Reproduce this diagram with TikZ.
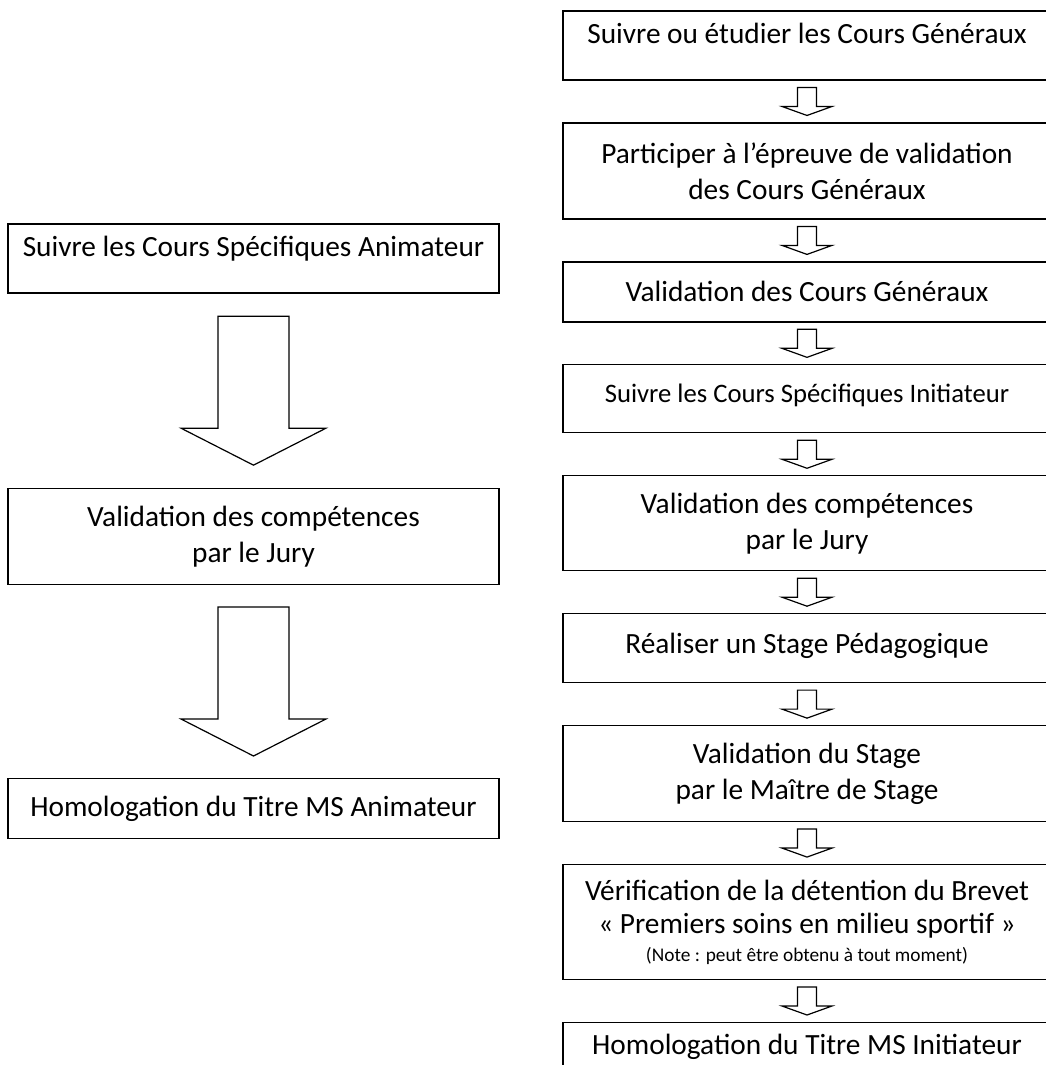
\documentclass[tikz,border=0pt]{standalone}
\usepackage{fontspec}
\setmainfont{Carlito}
\usepackage{tikz}
\usetikzlibrary{
    positioning,
    calc
}

% hollow block arrow between two stacked boxes
% #1 upper node, #2 lower node, #3 half length, #4 shaft half width,
% #5 head half width, #6 head length
\newcommand{\flowarrow}[6]{%
  \coordinate (m) at ($(#1.south)!0.5!(#2.north)$);
  \draw[blockarrow] ($(m)+(-#4,-#3)$) -- ($(m)+(-#4,{#3-#6})$)
    -- ($(m)+(-#5,{#3-#6})$) -- ($(m)+(0,#3)$)
    -- ($(m)+(#5,{#3-#6})$) -- ($(m)+(#4,{#3-#6})$)
    -- ($(m)+(#4,-#3)$) -- cycle;}

\begin{document}
\begin{tikzpicture}[
  x = 0.75pt, y = -0.75pt,
  node distance = 31.2pt,
  box/.style       = {rectangle, draw, line width=1pt, align=center,
                      inner sep=0pt, minimum height=51.75pt},
  rbox/.style      = {box, minimum width=366pt},
  lbox/.style      = {box, minimum width=368.25pt},
  topline/.style   = {text height=14.5pt, text depth=18pt},
  blockarrow/.style = {draw, line width=0.9pt, line join=miter},
  every node/.style = {font=\fontsize{22}{27}\selectfont}
]
\useasboundingbox (0,0) rectangle (1046,1065);
\clip (0,0) rectangle (1046,1065);

% Right column
\node[rbox, topline] (cg) at (807,45.5) {Suivre ou étudier les Cours Généraux};
\node[rbox, minimum height=72pt, below=of cg] (epreuve)
  {Participer à l’épreuve de validation\\des Cours Généraux};
\node[rbox, minimum height=45pt, below=of epreuve] (valcg) {Validation des Cours Généraux};
\node[rbox, minimum height=51pt, below=of valcg, font=\fontsize{20}{24}\selectfont,
      text height=14pt, text depth=8.6pt] (csi) {Suivre les Cours Spécifiques Initiateur};
\node[rbox, minimum height=71.25pt, below=of csi] (jury)
  {Validation des compétences\\par le Jury};
\node[rbox, below=of jury, text height=15pt, text depth=6.8pt] (stage)
  {Réaliser un Stage Pédagogique};
\node[rbox, minimum height=72pt, below=of stage] (valstage)
  {Validation du Stage\\par le Maître de Stage};
\node[rbox, minimum height=86.25pt, below=of valstage] (brevet)
  {Vérification de la détention du Brevet\\[-2pt]«~Premiers soins en milieu sportif~»\\[-6pt]
   {\fontsize{14.5}{18}\selectfont (Note : peut être obtenu à tout moment)}};
\node[rbox, topline, below=of brevet] (titrei) {Homologation du Titre MS Initiateur};

% Left column
\node[lbox, topline] (csa) at (253.5,258.5) {Suivre les Cours Spécifiques Animateur};
\node[lbox, minimum height=72pt, below=145.5pt of csa] (jurya)
  {Validation des compétences\\par le Jury};
\node[lbox, minimum height=45pt, below=144.75pt of jurya] (titrea)
  {Homologation du Titre MS Animateur};

% Arrows
\flowarrow{cg}{epreuve}{14}{9.5}{25}{9}
\flowarrow{epreuve}{valcg}{14}{9.5}{25}{9}
\flowarrow{valcg}{csi}{14}{9.5}{25}{9}
\flowarrow{csi}{jury}{14}{9.5}{25}{9}
\flowarrow{jury}{stage}{14}{9.5}{25}{9}
\flowarrow{stage}{valstage}{14}{9.5}{25}{9}
\flowarrow{valstage}{brevet}{14}{9.5}{25}{9}
\flowarrow{brevet}{titrei}{14}{9.5}{25}{9}

\flowarrow{csa}{jurya}{74.5}{35.5}{72.5}{37}
\flowarrow{jurya}{titrea}{74.5}{35.5}{72.5}{37}

\end{tikzpicture}
\end{document}
